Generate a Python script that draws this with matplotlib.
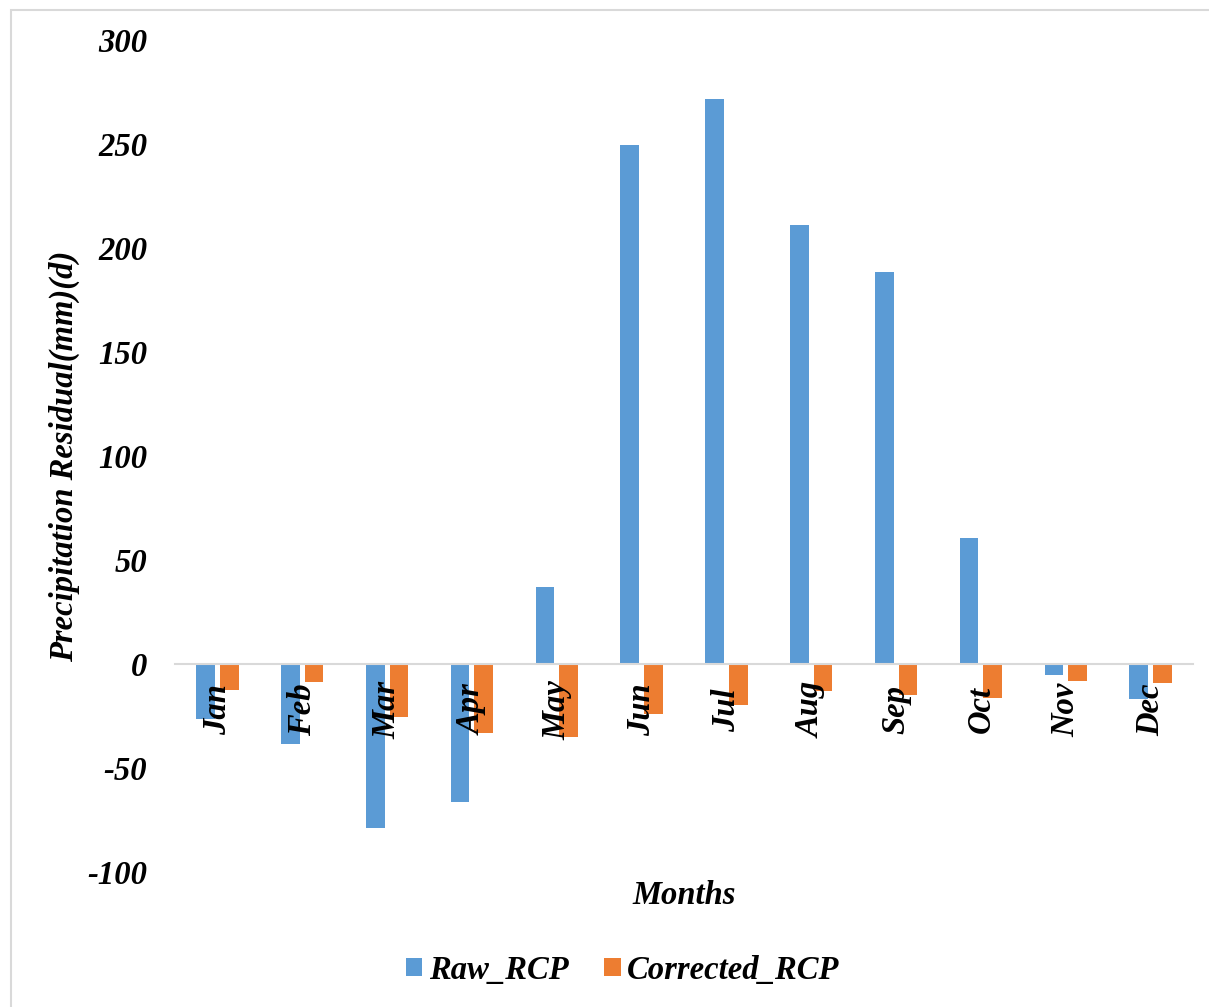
import numpy as np
import matplotlib.pyplot as plt
from matplotlib.patches import Rectangle

months = ['Jan', 'Feb', 'Mar', 'Apr', 'May', 'Jun', 'Jul', 'Aug', 'Sep', 'Oct', 'Nov', 'Dec']
raw_rcp = [-26.4, -38.5, -79, -66.3, 37, 249.5, 271.6, 211, 188.5, 60.6, -5.3, -16.8]
corrected_rcp = [-12.5, -8.7, -25.5, -33, -35, -24, -19.7, -13, -15, -16.5, -8, -9]
yticks = [-100, -50, 0, 50, 100, 150, 200, 250, 300]

plt.rcParams['font.family'] = ['Liberation Serif', 'DejaVu Serif']
plt.rcParams['font.weight'] = 'bold'
plt.rcParams['font.style'] = 'italic'
plt.rcParams['axes.labelweight'] = 'bold'

fs = 23.5

fig = plt.figure(figsize=(12.09, 10.07), dpi=100)
ax = fig.add_axes([0.1447, 0.1341, 0.8421, 0.8262])

# light gray chart-area border
fig.patches.append(Rectangle((11 / 1209, -0.1), 1.2, 1 - 10 / 1007 + 0.1,
                             transform=fig.transFigure, fill=False,
                             edgecolor='#d9d9d9', linewidth=1.5))

x = np.arange(len(months))
w = 0.22
ax.bar(x - 0.14, raw_rcp, w, color='#5B9BD5', label='Raw_RCP')
ax.bar(x + 0.14, corrected_rcp, w, color='#ED7D31', label='Corrected_RCP')

ax.set_xlim(-0.5, 11.5)
ax.set_ylim(-100, 300)
ax.set_yticks(yticks)
ax.set_yticklabels([str(v) for v in yticks], fontsize=fs)

ax.spines['bottom'].set_position(('data', 0))
ax.spines['bottom'].set_color('#d9d9d9')
ax.spines['bottom'].set_linewidth(1.5)
for s in ['top', 'right', 'left']:
    ax.spines[s].set_visible(False)

ax.set_xticks(x)
ax.set_xticklabels(months, rotation=90, fontsize=fs, va='center', ha='center')
ax.tick_params(axis='x', length=0, pad=33)
ax.tick_params(axis='y', length=0, pad=20)

ax.set_ylabel('Precipitation Residual(mm)(d)', fontsize=fs,
              fontweight='bold', fontstyle='italic')
ax.yaxis.set_label_coords(-0.093, 0.5)
fig.text(0.5658, 1 - 896 / 1007, 'Months', fontsize=fs, ha='center', va='center')

fig.legend(loc='center', bbox_to_anchor=(0.515, 1 - 970 / 1007), ncol=2,
           frameon=False, fontsize=fs, handlelength=0.5, handleheight=0.5,
           handletextpad=0.2, columnspacing=1.1)

plt.savefig('out.png', dpi=100)
